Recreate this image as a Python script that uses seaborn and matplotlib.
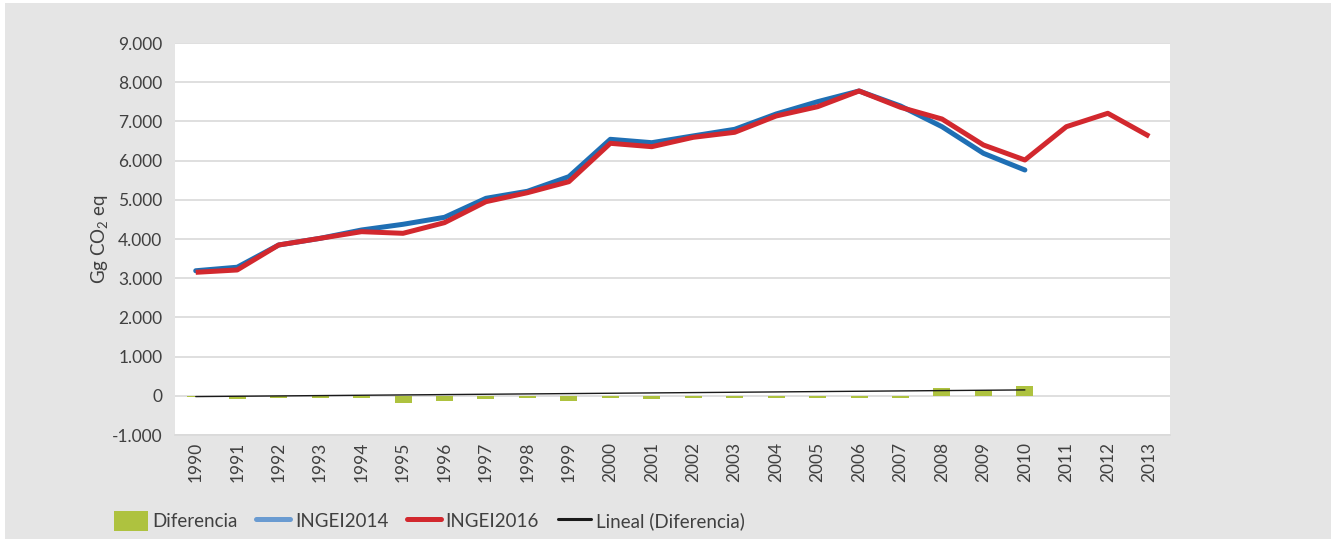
import numpy as np
import pandas as pd
import matplotlib
matplotlib.use("Agg")
import matplotlib.pyplot as plt
import matplotlib.patches as mpatches
from matplotlib.lines import Line2D
from matplotlib.ticker import FuncFormatter
import seaborn as sns

# --- data -------------------------------------------------------------
years = [str(y) for y in range(1990, 2014)]

ingei2014 = [3190, 3280, 3847, 4017, 4230, 4375, 4553, 5038, 5217, 5590,
             6543, 6457, 6630, 6798, 7189, 7503, 7776, 7393, 6865, 6186,
             5760, np.nan, np.nan, np.nan]

ingei2016 = [3150, 3210, 3847, 4017, 4187, 4145, 4417, 4952, 5181, 5462,
             6441, 6355, 6594, 6722, 7138, 7375, 7776, 7359, 7061, 6398,
             6015, 6865, 7207, 6620]

diferencia = [-40, -85, -60, -60, -60, -185, -135, -90, -60, -135,
              -60, -90, -60, -60, -60, -60, -60, -60, 190, 140,
              245, np.nan, np.nan, np.nan]

# linear trend of Diferencia (value at 1990 and at 2010)
trend_years = ["1990", "2010"]
trend_values = [-20, 150]

# --- style ------------------------------------------------------------
sns.set_theme(style="white")
plt.rcParams["font.family"] = ["Lato", "DejaVu Sans"]
plt.rcParams["mathtext.default"] = "regular"

BG = "#e5e5e5"
GREEN = "#aec23f"
BLUE = "#1f6fb4"
BLUE_LEG = "#6a9bd1"
RED = "#d2282e"
GRID = "#d9d9d9"
TXT = "#404040"

fig = plt.figure(figsize=(13.35, 5.39), dpi=100)
fig.patch.set_facecolor("white")
fig.patches.append(mpatches.Rectangle((5 / 1335, 0), 1326 / 1335, 536 / 539,
                                      transform=fig.transFigure,
                                      facecolor=BG, edgecolor="none", zorder=-10))

ax = fig.add_axes([175 / 1335, 1 - 435 / 539, 995 / 1335, 392 / 539])
ax.set_facecolor("white")

df = pd.DataFrame({"year": years, "INGEI2014": ingei2014,
                   "INGEI2016": ingei2016, "Diferencia": diferencia})
pos = np.arange(len(years))

sns.barplot(data=df, x="year", y="Diferencia", order=years, color=GREEN,
            width=0.41, saturation=1, linewidth=0, ax=ax, zorder=3)

sns.lineplot(x=pos, y=df["INGEI2014"], color=BLUE, linewidth=3.6, ax=ax,
             zorder=4, solid_capstyle="round")
sns.lineplot(x=pos, y=df["INGEI2016"], color=RED, linewidth=3.6, ax=ax,
             zorder=5, solid_capstyle="butt")

tpos = [years.index(y) for y in trend_years]
sns.lineplot(x=tpos, y=trend_values, color="#1a1a1a", linewidth=1.0, ax=ax,
             zorder=6)

# --- axes -------------------------------------------------------------
ax.set_xlim(-0.5, len(years) - 0.5)
ax.set_ylim(-1000, 9000)
ax.set_yticks(np.arange(-1000, 9001, 1000))
ax.yaxis.set_major_formatter(
    FuncFormatter(lambda v, _: f"{int(v):,}".replace(",", ".")))
ax.grid(axis="y", color=GRID, linewidth=1.2, zorder=0)
ax.set_axisbelow(True)

ax.set_xticks(pos)
ax.set_xticklabels(years, rotation=90)
ax.tick_params(axis="x", length=0, pad=5, labelsize=12.5, labelcolor=TXT)
ax.tick_params(axis="y", length=0, pad=9, labelsize=12.5, labelcolor=TXT)

for s in ["top", "right", "left"]:
    ax.spines[s].set_visible(False)
ax.spines["bottom"].set_color(GRID)
ax.spines["bottom"].set_linewidth(1.2)

ax.set_xlabel("")
ax.set_ylabel("Gg CO$_2$ eq", fontsize=13.5, color=TXT, labelpad=1)

# --- legend -----------------------------------------------------------
handles = [
    mpatches.Patch(facecolor=GREEN, edgecolor="none"),
    Line2D([], [], color=BLUE_LEG, linewidth=3.6),
    Line2D([], [], color=RED, linewidth=3.6),
    Line2D([], [], color="#1a1a1a", linewidth=2.2),
]
labels = ["Diferencia", "INGEI2014", "INGEI2016", "Lineal (Diferencia)"]
fig.legend(handles, labels, loc="center left", ncol=4, frameon=False,
           bbox_to_anchor=(97 / 1335, 1 - 521 / 539), fontsize=13.5,
           handlelength=1.8, handleheight=1.2, handletextpad=0.25,
           columnspacing=1.0, labelcolor=TXT)

fig.savefig("out.png", dpi=100, facecolor=fig.get_facecolor())
